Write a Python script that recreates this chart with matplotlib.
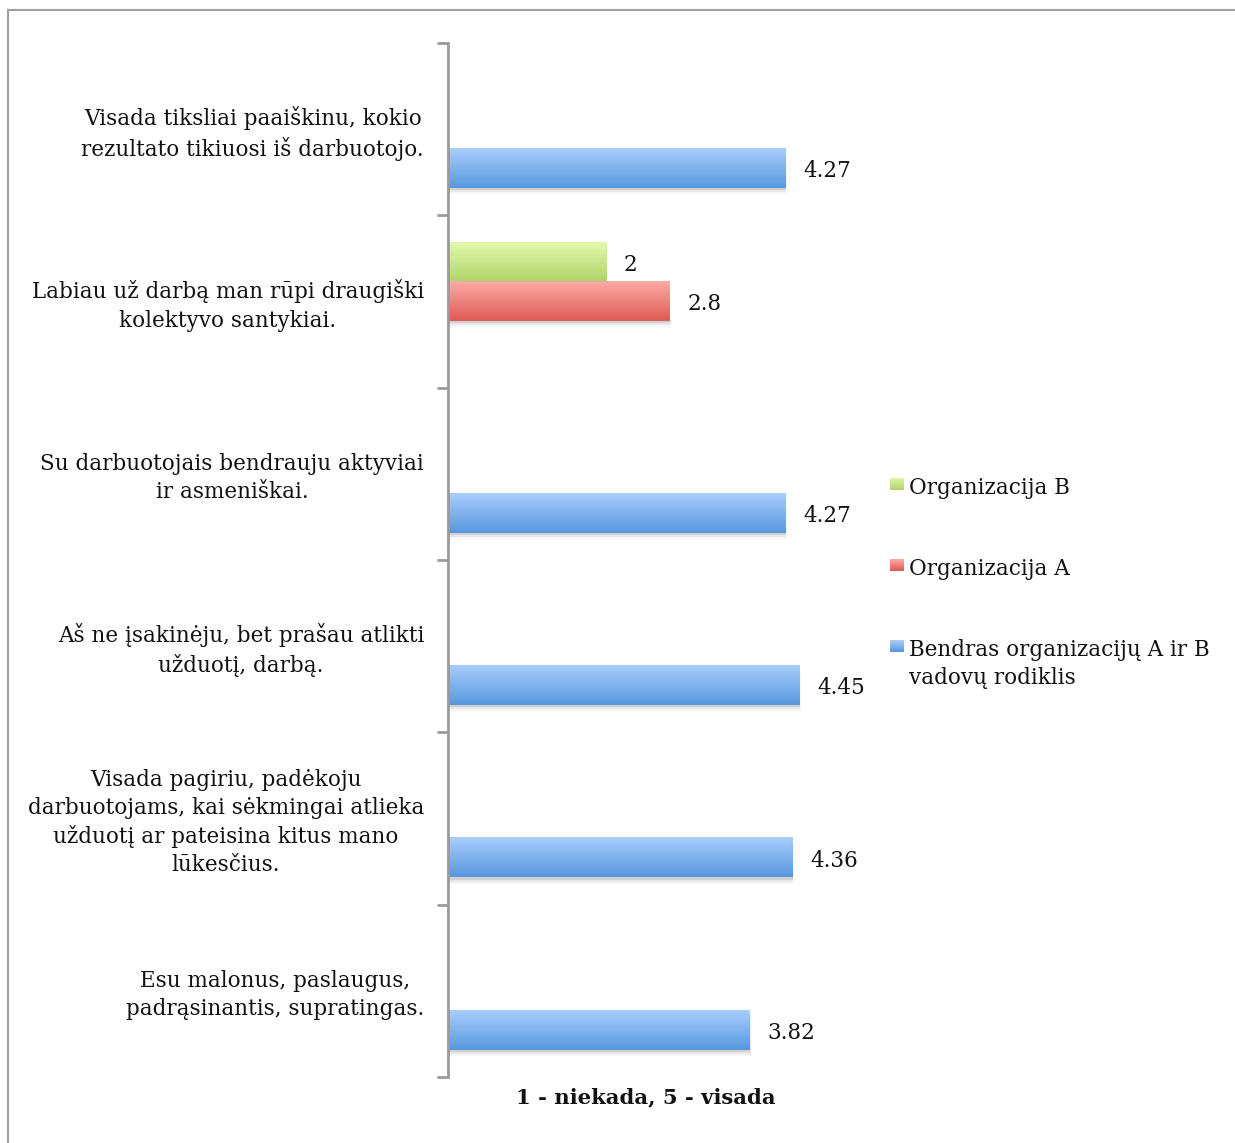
import numpy as np
import matplotlib
matplotlib.use("Agg")
import matplotlib.pyplot as plt
from matplotlib.colors import LinearSegmentedColormap
from matplotlib.patches import Rectangle
from matplotlib.lines import Line2D

plt.rcParams["font.family"] = ["DejaVu Serif"]

# Survey statements (top to bottom)
categories = [
    "Visada tiksliai paaiškinu, kokio\nrezultato tikiuosi iš darbuotojo.",
    "Labiau už darbą man rūpi draugiški\nkolektyvo santykiai.",
    "Su darbuotojais bendrauju aktyviai\nir asmeniškai.",
    "Aš ne įsakinėju, bet prašau atlikti\nužduotį, darbą.",
    "Visada pagiriu, padėkoju\ndarbuotojams, kai sėkmingai atlieka\nužduotį ar pateisina kitus mano\nlūkesčius.",
    "Esu malonus, paslaugus,\npadrąsinantis, supratingas.",
]

series_names = [
    "Organizacija B",
    "Organizacija A",
    "Bendras organizacijų A ir B\nvadovų rodiklis",
]
org_b = [np.nan, 2, np.nan, np.nan, np.nan, np.nan]
org_a = [np.nan, 2.8, np.nan, np.nan, np.nan, np.nan]
overall = [4.27, np.nan, 4.27, 4.45, 4.36, 3.82]
series_values = [org_b, org_a, overall]

# gradient (top colour, bottom colour) for each series
series_grad = [("#e2f8ac", "#b0d468"), ("#ffaaa6", "#dc5b53"), ("#a8cdfc", "#5898df")]

x_title = "1 - niekada, 5 - visada"

W, H = 1235, 1143
fig = plt.figure(figsize=(W / 100, H / 100), dpi=100)

# axes placement in pixels
ax_l, ax_r, ax_t, ax_b = 448, 843, 43, 1077
ax = fig.add_axes([ax_l / W, 1 - ax_b / H, (ax_r - ax_l) / W, (ax_b - ax_t) / H])

n = len(categories)
bw = 0.228
offsets = [-bw, 0.0, bw]
y = np.arange(n)

ax.set_xlim(0, 5)
ax.set_ylim(n - 0.5, -0.5)

for vals, off, (c_top, c_bot) in zip(series_values, offsets, series_grad):
    cmap = LinearSegmentedColormap.from_list("g", [c_top, c_bot])
    vals = np.asarray(vals, dtype=float)
    mask = ~np.isnan(vals)
    bars = ax.barh(y[mask] + off, vals[mask], height=bw, color="none", edgecolor="none")
    for bar, v in zip(bars, vals[mask]):
        x0, y0 = bar.get_x(), bar.get_y()
        bwid, bht = bar.get_width(), bar.get_height()
        # soft drop shadow
        for k, a in enumerate([0.10, 0.06, 0.03]):
            ax.add_patch(Rectangle((x0 + 0.005 * (k + 1), y0 + 0.012 * (k + 1)), bwid, bht,
                                   facecolor="black", edgecolor="none", alpha=a, zorder=1))
        grad = np.linspace(0, 1, 64).reshape(-1, 1)
        ax.imshow(grad, cmap=cmap, aspect="auto", interpolation="bilinear",
                  extent=(x0, x0 + bwid, y0 + bht, y0), zorder=2)
        ax.annotate(f"{v:g}", xy=(x0 + bwid, y0 + bht / 2), xytext=(18, -3),
                    textcoords="offset pixels", ha="left", va="center",
                    fontsize=15.5, color="#111111", zorder=3)

ax.set_xlim(0, 5)
ax.set_ylim(n - 0.5, -0.5)

# axis styling
for s in ["top", "right", "bottom"]:
    ax.spines[s].set_visible(False)
ax.spines["left"].set_color("#9a9a9a")
ax.spines["left"].set_linewidth(2)
ax.set_xticks([])
ax.set_yticks(np.arange(-0.5, n, 1.0))
ax.set_yticklabels([])
ax.tick_params(axis="y", length=8, width=2, color="#9a9a9a", direction="out")
ax.patch.set_alpha(0)

# category labels
for i, lab in enumerate(categories):
    ax.annotate(lab, xy=(0, i), xycoords=("axes fraction", "data"),
                xytext=(-24, -4), textcoords="offset pixels",
                ha="right", va="center", multialignment="center",
                fontsize=15.5, linespacing=1.36, color="#111111")

ax.annotate(x_title, xy=(0.5, 0), xycoords="axes fraction", xytext=(0, -10),
            textcoords="offset pixels", ha="center", va="top",
            fontsize=15.2, fontweight="bold", color="#111111")

# legend drawn as squares + labels
leg_x, leg_y0, leg_dy, sq = 890, 484, 81, 13
for k, (name, (c_top, c_bot)) in enumerate(zip(series_names, series_grad)):
    yc = leg_y0 + k * leg_dy
    cmap = LinearSegmentedColormap.from_list("g", [c_top, c_bot])
    lax = fig.add_axes([leg_x / W, 1 - (yc + 6) / H, 14 / W, 12 / H])
    lax.imshow(np.linspace(0, 1, 32).reshape(-1, 1), cmap=cmap, aspect="auto")
    lax.axis("off")
    fig.text((leg_x + 19) / W, 1 - (yc - 7) / H, name, ha="left", va="top",
             fontsize=15.5, linespacing=1.36, color="#111111")

# outer frame (top and left edges)
fig.add_artist(Line2D([8 / W, 8 / W], [0, 1 - 10 / H], transform=fig.transFigure,
                      color="#a0a0a0", lw=1.5))
fig.add_artist(Line2D([8 / W, 1], [1 - 10 / H, 1 - 10 / H], transform=fig.transFigure,
                      color="#a0a0a0", lw=1.5))

fig.savefig("out.png", dpi=100)
